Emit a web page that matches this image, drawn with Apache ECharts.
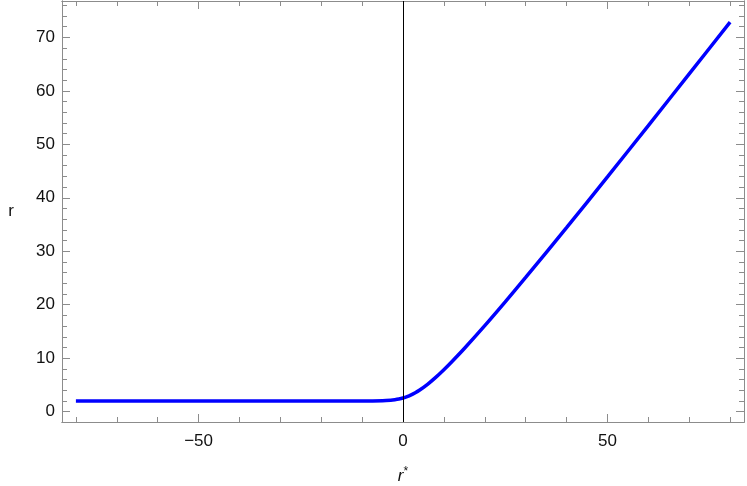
<!DOCTYPE html>
<html>
<head>
<meta charset="utf-8">
<script src="https://cdn.jsdelivr.net/npm/echarts@6/dist/echarts.min.js"></script>
<style>
  html, body { margin: 0; padding: 0; background: #fff; }
  #chart { width: 747px; height: 486px; }
</style>
</head>
<body>
<div id="chart"></div>
<script>
// r* (tortoise coordinate) and r
var rStar = [-80, -60, -40, -20, -10, -5, -3, -2, -1, 0, 1, 2, 3, 4, 6, 8, 10, 12, 15, 20, 25, 30, 40, 50, 60, 70, 80];
var rVals = [2.0, 2.0, 2.0, 2.0, 2.005, 2.059, 2.152, 2.24, 2.371, 2.557, 2.81, 3.135, 3.533, 4.0, 5.115, 6.416, 7.85, 9.39, 11.82, 16.09, 20.54, 25.11, 34.42, 43.91, 53.5, 63.16, 72.86];

var xMajor = [-50, 0, 50];
var xMinor = [-80, -70, -60, -40, -30, -20, -10, 10, 20, 30, 40, 60, 70, 80];
var yMajor = [0, 10, 20, 30, 40, 50, 60, 70];
var yMinor = [2, 4, 6, 8, 12, 14, 16, 18, 22, 24, 26, 28, 32, 34, 36, 38, 42, 44, 46, 48, 52, 54, 56, 58, 62, 64, 66, 68, 72, 74, 76];

var xMin = -83.4, xMax = 83.4;
var yMin = -1.93, yMax = 76.8;

var frameColor = '#8c8c8c';
var fontFamily = '"Liberation Sans", Arial, sans-serif';

var points = [];
for (var i = 0; i < rStar.length; i++) {
    points.push([rStar[i], rVals[i]]);
}

function makeAxis(pos, ticks, len, showLabel, extra) {
    var horiz = pos === 'bottom' || pos === 'top';
    var ax = {
        type: 'value',
        position: pos,
        min: horiz ? xMin : yMin,
        max: horiz ? xMax : yMax,
        axisLine: { show: true, onZero: false, lineStyle: { color: frameColor, width: 1 } },
        axisTick: {
            show: true,
            inside: true,
            length: len,
            customValues: ticks,
            lineStyle: { color: frameColor, width: 1 }
        },
        axisLabel: {
            show: showLabel,
            customValues: ticks,
            margin: horiz ? 11 : 7,
            color: '#111',
            fontSize: 17,
            fontFamily: fontFamily,
            formatter: function (v) { return v < 0 ? '\u2212' + Math.abs(v) : String(v); }
        },
        splitLine: { show: false }
    };
    return Object.assign(ax, extra || {});
}

var chart = echarts.init(document.getElementById('chart'));

chart.setOption({
    animation: false,
    grid: { left: 62, right: 3, top: 1, bottom: 64, containLabel: false, outerBoundsMode: 'none' },
    xAxis: [
        makeAxis('bottom', xMajor, 8, true, {
            name: '{i|r}{s|*}',
            nameLocation: 'middle',
            nameGap: 44,
            nameTextStyle: {
                rich: {
                    i: { fontStyle: 'italic', fontSize: 17, fontFamily: fontFamily, color: '#111' },
                    s: { fontSize: 12, fontFamily: fontFamily, color: '#111', verticalAlign: 'top', padding: [0, 0, 8, 0] }
                }
            }
        }),
        makeAxis('bottom', xMinor, 5, false),
        makeAxis('top', xMajor, 8, false),
        makeAxis('top', xMinor, 5, false)
    ],
    yAxis: [
        makeAxis('left', yMajor, 8, true, {
            name: 'r',
            nameLocation: 'middle',
            nameGap: 48,
            nameRotate: 0,
            nameTextStyle: { fontSize: 17, fontFamily: fontFamily, color: '#111' }
        }),
        makeAxis('left', yMinor, 5, false),
        makeAxis('right', yMajor, 8, false),
        makeAxis('right', yMinor, 5, false)
    ],
    series: [{
        type: 'line',
        data: points,
        xAxisIndex: 0,
        yAxisIndex: 0,
        smooth: 0.3,
        symbol: 'none',
        lineStyle: { color: '#0000ff', width: 3.5 },
        markLine: {
            silent: true,
            symbol: 'none',
            label: { show: false },
            lineStyle: { color: '#000', width: 1, type: 'solid' },
            data: [{ xAxis: 0 }]
        }
    }]
});
</script>
</body>
</html>
